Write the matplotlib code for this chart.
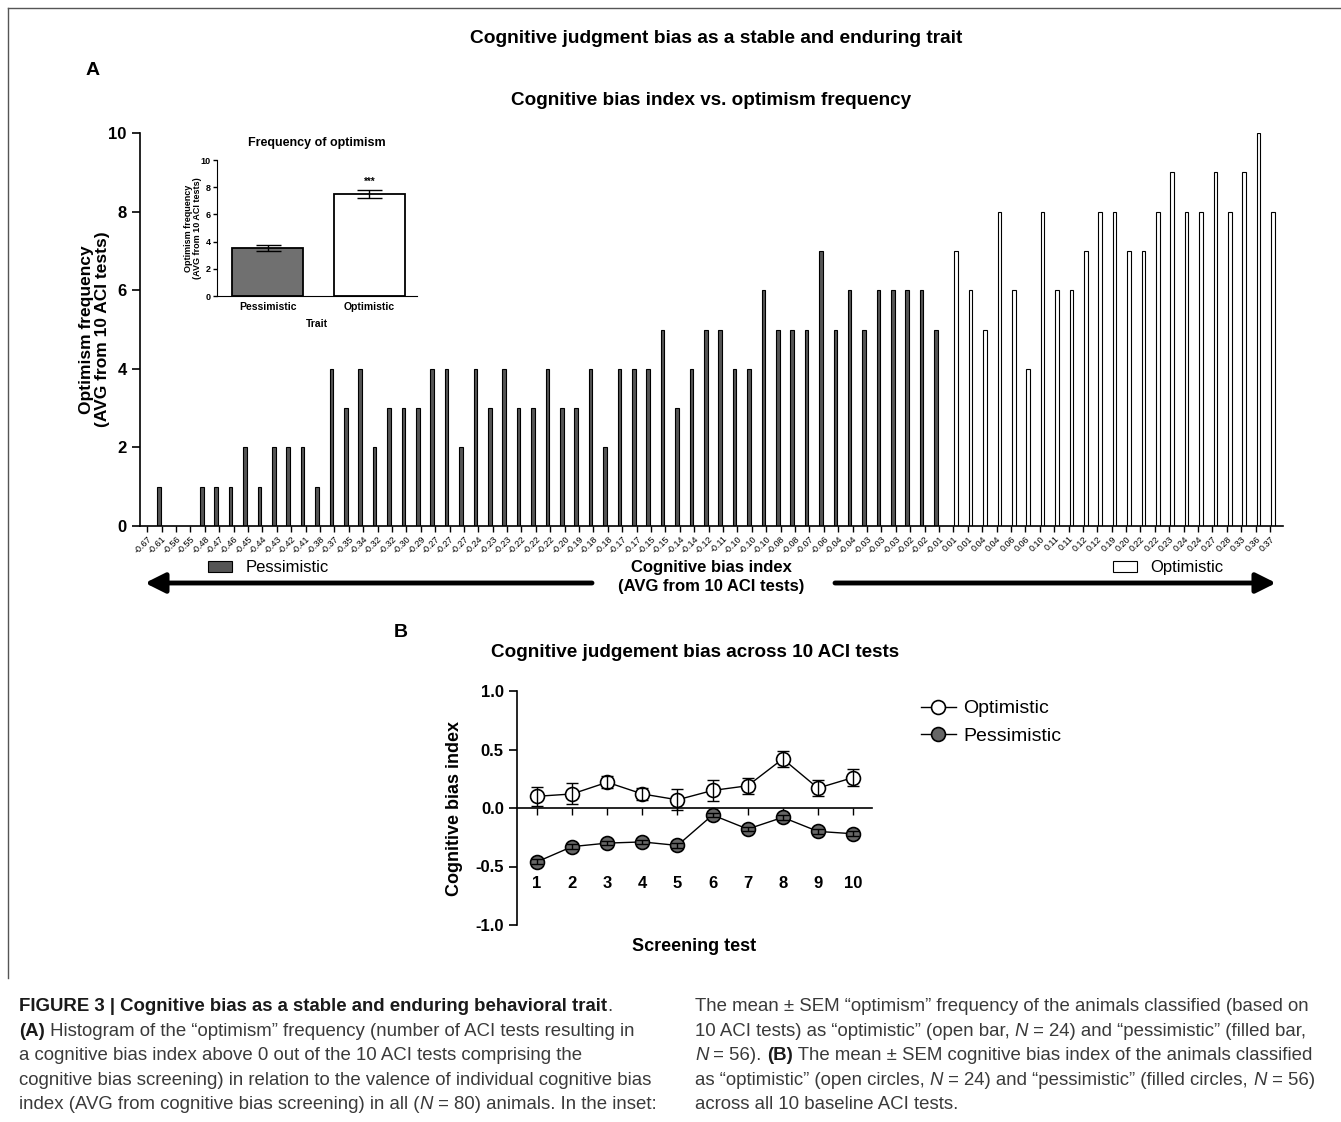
import matplotlib
matplotlib.use('Agg')
import matplotlib.pyplot as plt
import matplotlib.patches as patches
from matplotlib.lines import Line2D
import numpy as np

plt.rcParams['font.family'] = ['Liberation Sans', 'DejaVu Sans']

# --- Panel A data: individual animals (AVG cognitive bias index, optimism frequency) ---
ci_labels = ['-0.67', '-0.61', '-0.56', '-0.55', '-0.48', '-0.47', '-0.46', '-0.45', '-0.44', '-0.43',
             '-0.42', '-0.41', '-0.38', '-0.37', '-0.35', '-0.34', '-0.32', '-0.32', '-0.30', '-0.29',
             '-0.27', '-0.27', '-0.27', '-0.24', '-0.23', '-0.23', '-0.22', '-0.22', '-0.22', '-0.20',
             '-0.19', '-0.18', '-0.18', '-0.17', '-0.17', '-0.15', '-0.15', '-0.14', '-0.14', '-0.12',
             '-0.11', '-0.10', '-0.10', '-0.10', '-0.08', '-0.08', '-0.07', '-0.06', '-0.04', '-0.04',
             '-0.03', '-0.03', '-0.03', '-0.02', '-0.02', '-0.01',
             '0.01', '0.01', '0.04', '0.04', '0.06', '0.06', '0.10', '0.11', '0.11', '0.12',
             '0.12', '0.19', '0.20', '0.22', '0.22', '0.23', '0.24', '0.24', '0.27', '0.28',
             '0.33', '0.36', '0.37']
pess_freq = [0, 1, 0, 0, 1, 1, 1, 2, 1, 2, 2, 2, 1, 4, 3, 4, 2, 3, 3, 3,
             4, 4, 2, 4, 3, 4, 3, 3, 4, 3, 3, 4, 2, 4, 4, 4, 5, 3, 4, 5,
             5, 4, 4, 6, 5, 5, 5, 7, 5, 6, 5, 6, 6, 6, 6, 5]
opt_freq = [7, 6, 5, 8, 6, 4, 8, 6, 6, 7, 8, 8, 7, 7, 8, 9, 8, 8, 9, 8, 9, 10, 8]

# --- Inset data ---
trait_names = ['Pessimistic', 'Optimistic']
trait_mean = [3.5, 7.5]
trait_sem = [0.22, 0.28]

# --- Panel B data ---
tests = list(range(1, 11))
opt_cbi = [0.10, 0.12, 0.22, 0.12, 0.07, 0.15, 0.19, 0.42, 0.17, 0.26]
opt_sem = [0.08, 0.09, 0.05, 0.05, 0.09, 0.09, 0.07, 0.07, 0.07, 0.07]
pess_cbi = [-0.46, -0.33, -0.30, -0.29, -0.32, -0.06, -0.18, -0.08, -0.20, -0.22]
pess_sem = [0.02, 0.02, 0.02, 0.02, 0.02, 0.02, 0.02, 0.02, 0.02, 0.02]

W, H = 1341, 1122
fig = plt.figure(figsize=(W / 100, H / 100), dpi=100)

# background axes in pixel coordinates for free text / arrows / frame
bg = fig.add_axes([0, 0, 1, 1], zorder=0)
bg.set_xlim(0, W)
bg.set_ylim(H, 0)
bg.axis('off')

def fx(px):
    return px / W

def fy(py):
    return 1 - py / H

# outer frame (left + top)
bg.plot([8, 8], [8, 978], color='#555555', lw=1)
bg.plot([8, W], [8, 8], color='#555555', lw=1)

bg.text(716, 38, 'Cognitive judgment bias as a stable and enduring trait', ha='center', va='center',
        fontsize=13.8, fontweight='bold')
bg.text(93, 70, 'A', ha='center', va='center', fontsize=14, fontweight='bold')
bg.text(711, 100, 'Cognitive bias index vs. optimism frequency', ha='center', va='center',
        fontsize=13.6, fontweight='bold')
bg.text(401, 632, 'B', ha='center', va='center', fontsize=14, fontweight='bold')
bg.text(695, 652, 'Cognitive judgement bias across 10 ACI tests', ha='center', va='center',
        fontsize=13.6, fontweight='bold')

# --- Panel A main histogram ---
axA = fig.add_axes([fx(140), fy(526), fx(1283) - fx(140), fy(133) - fy(526)])
n_pess = len(pess_freq)
x_all = np.arange(len(ci_labels))
axA.bar(x_all[:n_pess] - 0.2, pess_freq, width=0.25, color='#555555', edgecolor='black', linewidth=0.8)
axA.bar(x_all[n_pess:] + 0.2, opt_freq, width=0.25, color='white', edgecolor='black', linewidth=0.8)
axA.set_xlim(-0.5, len(ci_labels) - 0.1)
axA.set_ylim(0, 10)
axA.set_yticks([0, 2, 4, 6, 8, 10])
axA.set_xticks(x_all)
axA.set_xticklabels(ci_labels, rotation=45, ha='right', rotation_mode='anchor', fontsize=6.5)
axA.tick_params(axis='x', length=4, width=1, pad=2)
axA.tick_params(axis='y', length=6, width=1.2, labelsize=12)
for lab in axA.get_yticklabels():
    lab.set_fontweight('bold')
for s in ['top', 'right']:
    axA.spines[s].set_visible(False)
for s in ['left', 'bottom']:
    axA.spines[s].set_linewidth(1.2)
axA.set_ylabel('Optimism frequency\n(AVG from 10 ACI tests)', fontsize=12.5, fontweight='bold',
               linespacing=1.1)
axA.yaxis.set_label_coords(-0.026, 0.5)

# below-axis legend and arrows
narrow = ['Liberation Sans Narrow', 'Liberation Sans']
bg.add_patch(patches.Rectangle((208, 561), 24, 11, facecolor='#555555', edgecolor='black', lw=0.8))
bg.text(246, 567, 'Pessimistic', va='center', ha='left', fontsize=12, family=narrow)
bg.add_patch(patches.Rectangle((1113, 561), 24, 11, facecolor='white', edgecolor='black', lw=0.8))
bg.text(1150, 567, 'Optimistic', va='center', ha='left', fontsize=12, family=narrow)
bg.text(711, 567, 'Cognitive bias index', ha='center', va='center', fontsize=12, fontweight='bold',
        family=narrow)
bg.text(711, 586, '(AVG from 10 ACI tests)', ha='center', va='center', fontsize=12, fontweight='bold',
        family=narrow)
arrow_kw = dict(arrowstyle='-|>,head_length=0.6,head_width=0.3', lw=3.5, color='black',
                mutation_scale=20, shrinkA=0, shrinkB=0)
bg.annotate('', xy=(145, 583), xytext=(592, 583), arrowprops=arrow_kw)
bg.annotate('', xy=(1276, 583), xytext=(835, 583), arrowprops=arrow_kw)

# --- Inset ---
axI = fig.add_axes([fx(217), fy(296), fx(417) - fx(217), fy(160) - fy(296)])
axI.bar([0, 1], trait_mean, width=0.7, color=['#707070', 'white'], edgecolor='black', linewidth=1.3,
        yerr=trait_sem, capsize=9, error_kw=dict(elinewidth=1, capthick=1))
axI.text(1, trait_mean[1] + trait_sem[1] + 0.25, '***', ha='center', va='bottom', fontsize=7,
         fontweight='bold')
axI.set_xlim(-0.5, 1.47)
axI.set_ylim(0, 10)
axI.set_yticks([0, 2, 4, 6, 8, 10])
axI.set_xticks([0, 1])
axI.set_xticklabels(trait_names, fontsize=7.5, fontweight='bold')
axI.tick_params(axis='x', length=0, pad=4)
axI.tick_params(axis='y', length=3, width=1, labelsize=6.5, pad=1.5)
for lab in axI.get_yticklabels():
    lab.set_fontweight('bold')
for s in ['top', 'right']:
    axI.spines[s].set_visible(False)
axI.set_title('Frequency of optimism', fontsize=9, fontweight='bold', pad=10)
axI.set_ylabel('Optimism frequency\n(AVG from 10 ACI tests)', fontsize=6.5, fontweight='bold',
               linespacing=1.0)
axI.yaxis.set_label_coords(-0.075, 0.5)
axI.set_xlabel('Trait', fontsize=7.5, fontweight='bold')
axI.xaxis.set_label_coords(0.5, -0.17)

# --- Panel B ---
axB = fig.add_axes([fx(517), fy(925), fx(872) - fx(517), fy(691) - fy(925)])
axB.plot(tests, opt_cbi, color='black', lw=1, marker='o', markersize=10, markerfacecolor='white',
         markeredgecolor='black', markeredgewidth=1.2, zorder=3)
axB.plot(tests, pess_cbi, color='black', lw=1, marker='o', markersize=10, markerfacecolor='#666666',
         markeredgecolor='black', markeredgewidth=1.2, zorder=3)
axB.errorbar(tests, opt_cbi, yerr=opt_sem, fmt='none', ecolor='black', elinewidth=1, capsize=4,
             capthick=1, zorder=4)
axB.errorbar(tests, pess_cbi, yerr=pess_sem, fmt='none', ecolor='black', elinewidth=1, capsize=4,
             capthick=1, zorder=4)
axB.set_xlim(0.43, 10.54)
axB.set_ylim(-1, 1)
axB.set_yticks([-1, -0.5, 0, 0.5, 1])
axB.set_yticklabels(['-1.0', '-0.5', '0.0', '0.5', '1.0'])
axB.set_xticks(tests)
axB.spines['bottom'].set_position(('data', 0))
for s in ['top', 'right']:
    axB.spines[s].set_visible(False)
for s in ['left', 'bottom']:
    axB.spines[s].set_linewidth(1.2)
axB.tick_params(axis='x', length=5, width=1, labelsize=12, pad=44)
axB.tick_params(axis='y', length=6, width=1.2, labelsize=12)
for lab in axB.get_xticklabels() + axB.get_yticklabels():
    lab.set_fontweight('bold')
axB.set_ylabel('Cognitive bias index', fontsize=13, fontweight='bold')
axB.yaxis.set_label_coords(-0.152, 0.5)
axB.set_xlabel('Screening test', fontsize=13, fontweight='bold')
axB.xaxis.set_label_coords(0.5, -0.055)

leg_handles = [
    Line2D([], [], color='black', lw=1, marker='o', markersize=10, markerfacecolor='white',
           markeredgecolor='black', markeredgewidth=1.2),
    Line2D([], [], color='black', lw=1, marker='o', markersize=10, markerfacecolor='#666666',
           markeredgecolor='black', markeredgewidth=1.2),
]
fig.legend(leg_handles, ['Optimistic', 'Pessimistic'], loc='upper left',
           bbox_to_anchor=(fx(911), fy(690)), frameon=False, fontsize=14, handlelength=1.8,
           handletextpad=0.4, labelspacing=0.5, borderpad=0)

# --- Caption ---
cap_color = '#3a3a3a'
cap_size = 13.4

def draw_runs(x, y, runs):
    prev = None
    for txt, st in runs:
        kw = dict(fontsize=cap_size, color=cap_color)
        if st == 'b':
            kw.update(fontweight='bold', color='#1a1a1a')
        elif st == 'i':
            kw.update(fontstyle='italic')
        if prev is None:
            prev = bg.text(x, y, txt, ha='left', va='baseline', **kw)
        else:
            prev = bg.annotate(txt, xy=(1, 0), xycoords=prev, ha='left', va='bottom', **kw)

left_lines = [
    [('FIGURE 3 | Cognitive bias as a stable and enduring behavioral trait', 'b'), ('.', 'r')],
    [('(A)', 'b'), (' Histogram of the \u201coptimism\u201d frequency (number of ACI tests resulting in', 'r')],
    [('a cognitive bias index above 0 out of the 10 ACI tests comprising the', 'r')],
    [('cognitive bias screening) in relation to the valence of individual cognitive bias', 'r')],
    [('index (AVG from cognitive bias screening) in all (', 'r'), ('N', 'i'),
     (' = 80) animals. In the inset:', 'r')],
]
right_lines = [
    [('The mean \u00b1 SEM \u201coptimism\u201d frequency of the animals classified (based on', 'r')],
    [('10 ACI tests) as \u201coptimistic\u201d (open bar, ', 'r'), ('N', 'i'),
     (' = 24) and \u201cpessimistic\u201d (filled bar,', 'r')],
    [('N', 'i'), (' = 56). ', 'r'), ('(B)', 'b'),
     (' The mean \u00b1 SEM cognitive bias index of the animals classified', 'r')],
    [('as \u201coptimistic\u201d (open circles, ', 'r'), ('N', 'i'),
     (' = 24) and \u201cpessimistic\u201d (filled circles, ', 'r'), ('N', 'i'), (' = 56)', 'r')],
    [('across all 10 baseline ACI tests.', 'r')],
]
baselines = [1011, 1036, 1060, 1085, 1109]
for yb, runs in zip(baselines, left_lines):
    draw_runs(19, yb, runs)
for yb, runs in zip(baselines, right_lines):
    draw_runs(695, yb, runs)

fig.savefig('out.png', dpi=100)
print('saved out.png')
